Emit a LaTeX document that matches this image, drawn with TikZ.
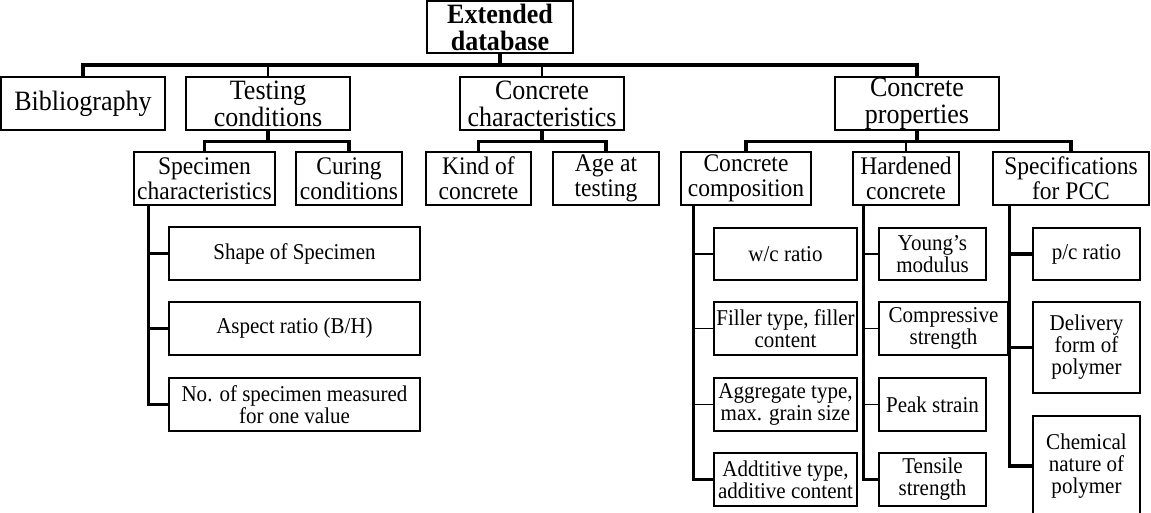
\documentclass[tikz,border=0pt]{standalone}
\usepackage{fontspec}
\setmainfont{Liberation Serif}[FakeStretch=0.93]
\usetikzlibrary{calc}

\begin{document}
\begin{tikzpicture}[x=1pt,y=-1pt,line join=miter]
	\tikzset{box/.style={draw,line width=1.4pt,align=center,inner sep=0pt},
		top box/.style={box,font=\fontsize{28}{27}\selectfont\bfseries,minimum width=146pt,minimum height=52pt},
		main box/.style={box,font=\fontsize{28}{27}\selectfont,minimum width=164pt,minimum height=53pt},
		sub box/.style={box,font=\fontsize{25.3}{25}\selectfont,minimum height=53pt},
		leaf box/.style={box,font=\fontsize{22.6}{22}\selectfont,minimum height=53pt},
		heavy/.style={line width=3.6pt},
		light/.style={line width=1.2pt}}
	\useasboundingbox (0,0) rectangle (1151,513);
	% root and first level
	\node[top box] (root) at (500,27) {Extended\\database};
	\node[main box] (bib) at (83,103.5) {Bibliography};
	\node[main box] (test) at (268,103.5) {Testing\\conditions};
	\node[main box] (cchar) at (542,103.5) {Concrete\\characteristics};
	\node[main box] (cprop) at (917,103.5) {Concrete\\properties};
	% second level
	\node[sub box,minimum width=141pt] (spec) at (204.5,178.5) {Specimen\\characteristics};
	\node[sub box,minimum width=106pt] (cur) at (349,178.5) {Curing\\conditions};
	\node[sub box,minimum width=105pt] (kind) at (478.5,178.5) {Kind of\\concrete};
	\node[sub box,minimum width=106pt] (age) at (606,178.5) {Age at\\testing};
	\node[sub box,minimum width=130pt] (comp) at (746,178.5) {Concrete\\composition};
	\node[sub box,minimum width=106pt] (hard) at (906,178.5) {Hardened\\concrete};
	\node[sub box,minimum width=156pt] (pcc) at (1071,178.5) {Specifications\\for PCC};
	% leaves
	\node[leaf box,minimum width=251pt] (shape) at (294.5,253.5) {Shape of Specimen};
	\node[leaf box,minimum width=251pt] (aspect) at (294.5,328.5) {Aspect ratio (B/H)};
	\node[leaf box,minimum width=251pt] (count) at (294.5,404.5) {No. of specimen measured\\for one value};
	\node[leaf box,minimum width=143pt,minimum height=52pt] (wc) at (785.5,254) {w/c ratio};
	\node[leaf box,minimum width=143pt] (filler) at (785.5,328.5) {Filler type, filler\\content};
	\node[leaf box,minimum width=143pt] (aggr) at (785.5,404.5) {Aggregate type,\\max. grain size};
	\node[leaf box,minimum width=143pt] (addit) at (785.5,479.5) {Addtitive type,\\additive content};
	\node[leaf box,minimum width=107pt,minimum height=52pt] (young) at (932.5,254) {Young’s\\modulus};
	\node[leaf box,minimum width=129pt] (compr) at (943.5,328.5) {Compressive\\strength};
	\node[leaf box,minimum width=107pt] (peak) at (932.5,404.5) {Peak strain};
	\node[leaf box,minimum width=107pt] (tens) at (932.5,479.5) {Tensile\\strength};
	\node[leaf box,minimum width=107pt,minimum height=52pt] (pc) at (1086.5,254) {p/c ratio};
	\node[leaf box,minimum width=107pt,minimum height=91pt] (deliv) at (1086.5,347.5) {Delivery\\form of\\polymer};
	\node[leaf box,minimum width=107pt,minimum height=100pt] (chem) at (1086.5,466) {Chemical\\nature of\\polymer};
	% first level links
	\coordinate (busA) at (500,65);
	\draw[heavy] (root.south) -- (busA);
	\draw[heavy] (bib.north) |- (busA) -| (cprop.north);
	\draw[light] (test.north) -- (test.north |- busA);
	\draw[light] (cchar.north) -- (cchar.north |- busA);
	% second level links
	\draw[heavy] (test.south) -- ++(0,11) coordinate (busB);
	\draw[heavy] (spec.north) |- (busB) -| (cur.north);
	\draw[heavy] (cchar.south) -- ++(0,11) coordinate (busC);
	\draw[heavy] (kind.north) |- (busC) -| (age.north);
	\draw[heavy] (cprop.south) -- ++(0,11) coordinate (busD);
	\draw[heavy] (comp.north) |- (busD) -| (pcc.north);
	\draw[light] (hard.north) -- (hard.north |- busD);
	% leaf spines
	\coordinate (specS) at ($(spec.south west)+(15,0)$);
	\draw[heavy] (specS) |- (count.west);
	\foreach \leaf in {shape,aspect}
		\draw[heavy] (specS |- \leaf.west) -- (\leaf.west);
	\coordinate (compS) at ($(comp.south west)+(13,0)$);
	\draw[heavy] (compS) |- (addit.west);
	\foreach \leaf in {wc,filler,aggr}
		\draw[light] (compS |- \leaf.west) -- (\leaf.west);
	\coordinate (hardS) at ($(hard.south west)+(11,0)$);
	\draw[heavy] (hardS) |- (tens.west);
	\foreach \leaf in {young,compr,peak}
		\draw[light] (hardS |- \leaf.west) -- (\leaf.west);
	\coordinate (pccS) at ($(pcc.south west)+(17,0)$);
	\draw[heavy] (pccS) |- (chem.west);
	\draw[heavy] (pccS |- pc.west) -- (pc.west);
	\draw[heavy] (pccS |- deliv.west) -- (deliv.west);
\end{tikzpicture}
\end{document}
